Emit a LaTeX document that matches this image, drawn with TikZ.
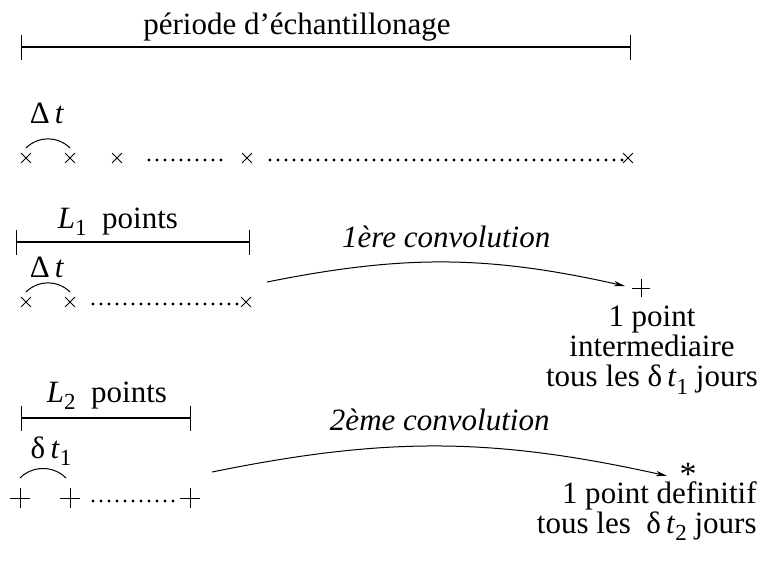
\documentclass[tikz,border=0pt]{standalone}
\usepackage{fontspec}
\setmainfont{Liberation Serif}
\usetikzlibrary{arrows.meta, positioning, shapes.misc}
\newcommand{\ind}[1]{\raisebox{-0.25em}{\fontsize{11.5}{12}\selectfont #1}}

\begin{document}
\begin{tikzpicture}[
    x=0.5pt, y=-0.5pt,
    every node/.style={font=\fontsize{15.5}{15}\selectfont, inner sep=0pt},
    lbl/.style={anchor=base},
    smp/.style={cross out, draw, minimum size=4.5pt, line width=0.4pt},
    pt/.style={cross out, draw, rotate=45, minimum size=6.6pt, line width=0.45pt},
    span/.style={{Bar[width=12.5pt]}-{Bar[width=12.5pt]}, line width=0.6pt},
    dots/.style={line width=1.7pt, line cap=round, dash pattern=on 0pt off 4pt},
    gap/.style={line width=0.5pt},
    conv/.style={-{Stealth[length=5.5pt, width=2.6pt, inset=1.5pt]}, line width=0.5pt},
    >=Stealth]
  \useasboundingbox (0,0) rectangle (763,564);
  % periode d'echantillonage
  \coordinate (per0) at (21,47);
  \coordinate (per1) at (631,47);
  \draw[span] (per0) -- (per1);
  \node[lbl] (per) at (297,34) {période d’échantillonage};
  % all the samples
  \foreach \n/\x in {1/26, 2/70, 3/117, 4/247, 5/628}
    \node[smp] (a\n) at (\x,158) {};
  \draw[gap] ([yshift=5pt]a1.center) to[bend left=45] ([yshift=5pt]a2.center);
  \node[lbl] (dta) at (47,123) {Δ\,\textit{t}};
  \draw[dots, shorten <=16pt, shorten >=11pt] ([yshift=-1pt]a3.center) -- ([yshift=-1pt]a4.center);
  \draw[dots, shorten <=11.5pt] ([yshift=-1pt]a4.center) -- ([yshift=-1pt]a5.center);
  % first convolution
  \coordinate (L1a) at (16,242);
  \coordinate (L1b) at (250,242);
  \draw[span] (L1a) -- (L1b);
  \node[lbl] (L1) at (118,228) {\textit{L}\ind{1}~~points};
  \foreach \n/\x in {1/26, 2/70, 3/246}
    \node[smp] (b\n) at (\x,302) {};
  \draw[gap] ([yshift=5pt]b1.center) to[bend left=45] ([yshift=5pt]b2.center);
  \node[lbl] (dtb) at (47,277) {Δ\,\textit{t}};
  \draw[dots, shorten <=11.5pt, shorten >=3.5pt] ([yshift=-1pt]b2.center) -- ([yshift=-1pt]b3.center);
  \coordinate (c1) at (267,282);
  \node[pt, minimum size=6pt] (r1) at (641,288) {};
  \draw[conv] (c1) to[bend left=12]
    node[above=7pt] {\itshape 1ère convolution} ([xshift=-8pt,yshift=1pt]r1.center);
  \node[align=center, anchor=north] (res1) at (652,306)
    {1 point\\intermediaire\\tous les δ\,\textit{t}\ind{1} jours};
  % second convolution
  \coordinate (L2a) at (21,418);
  \coordinate (L2b) at (191,418);
  \draw[span] (L2a) -- (L2b);
  \node[lbl] (L2) at (107,402) {\textit{L}\ind{2}~~points};
  \foreach \n/\x in {1/20, 2/70, 3/190}
    \node[pt] (p\n) at (\x,498) {};
  \draw[gap] ([yshift=10pt]p1.center) to[bend left=45] ([shift={(-2pt,10pt)}]p2.center);
  \node[lbl] (dtc) at (51,458) {δ\,\textit{t}\ind{1}};
  \draw[dots, shorten <=11.5pt, shorten >=6.5pt] ([yshift=-1.5pt]p2.center) -- ([yshift=-1.5pt]p3.center);
  \coordinate (c2) at (212,472);
  \node[lbl, font=\fontsize{17}{17}\selectfont] (r2) at (688,485) {*};
  \draw[conv] (c2) to[bend left=12]
    node[above=7.5pt] {\itshape 2ème convolution} ([xshift=-10.5pt,yshift=-1pt]r2.center);
  \node[align=right, anchor=north east] (res2) at (757,481)
    {1 point definitif\\tous les~~δ\,\textit{t}\ind{2} jours};
\end{tikzpicture}
\end{document}
